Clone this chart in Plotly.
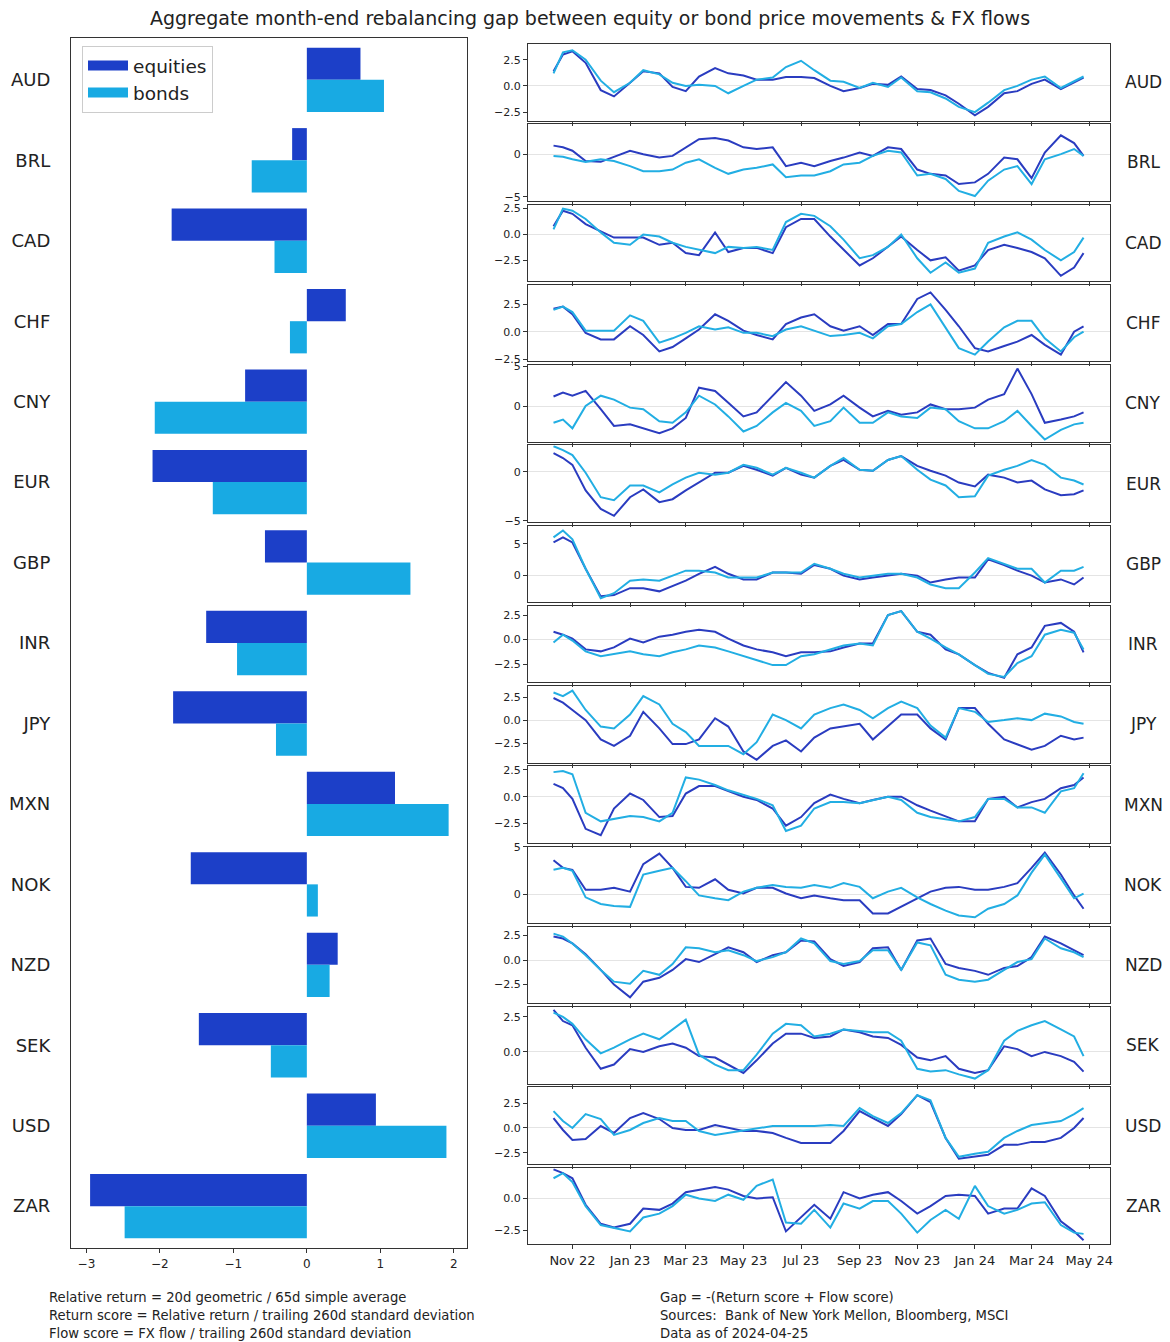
import plotly.graph_objects as go

# ---------------- data ----------------
currencies = ["AUD", "BRL", "CAD", "CHF", "CNY", "EUR", "GBP", "INR",
              "JPY", "MXN", "NOK", "NZD", "SEK", "USD", "ZAR"]

equities_gap = [0.73, -0.2, -1.84, 0.53, -0.84, -2.1, -0.57, -1.37,
                -1.82, 1.2, -1.58, 0.42, -1.47, 0.94, -2.95]
bonds_gap = [1.05, -0.75, -0.44, -0.23, -2.07, -1.28, 1.41, -0.95,
             -0.42, 1.93, 0.15, 0.31, -0.49, 1.9, -2.48]

dates = ["2022-10-12", "2022-10-22", "2022-11-01", "2022-11-15", "2022-12-01", "2022-12-15",
         "2023-01-01", "2023-01-15", "2023-02-01", "2023-02-15", "2023-03-01", "2023-03-15",
         "2023-04-01", "2023-04-15", "2023-05-01", "2023-05-15", "2023-06-01", "2023-06-15",
         "2023-07-01", "2023-07-15", "2023-08-01", "2023-08-15", "2023-09-01", "2023-09-15",
         "2023-10-01", "2023-10-15", "2023-11-01", "2023-11-15", "2023-12-01", "2023-12-15",
         "2024-01-01", "2024-01-15", "2024-02-01", "2024-02-15", "2024-03-01", "2024-03-15",
         "2024-04-01", "2024-04-15", "2024-04-25"]

eq_AUD = [1.4, 3.0, 3.3, 2.2, -0.4, -1.0, 0.3, 1.4, 1.2, -0.1, -0.5, 0.9, 1.7, 1.2, 1.0, 0.6, 0.6, 0.85, 0.85, 0.75,
          0.0, -0.5, -0.2, 0.2, 0.1, 0.9, -0.3, -0.4, -0.9, -1.7, -2.8, -2.0, -0.7, -0.5, 0.2, 0.6, -0.3, 0.3, 0.8]
bd_AUD = [1.2, 3.2, 3.4, 2.5, 0.5, -0.6, 0.3, 1.5, 1.1, 0.3, 0.0, 0.1, 0.0, -0.7, 0.0, 0.6, 0.8, 1.8, 2.4, 1.5,
          0.5, 0.4, -0.2, 0.3, -0.1, 0.8, -0.5, -0.6, -1.2, -2.0, -2.5, -1.6, -0.4, 0.0, 0.6, 0.9, -0.2, 0.4, 0.9]

eq_BRL = [1.0, 0.8, 0.4, -0.8, -0.9, -0.3, 0.4, 0.0, -0.4, -0.2, 0.8, 1.75, 1.9, 1.6, 0.8, 0.6, 0.8, -1.4, -1.0, -1.4,
          -0.8, -0.4, 0.2, -0.2, 0.8, 0.6, -1.8, -2.3, -2.5, -3.5, -3.3, -2.3, -0.4, -0.6, -2.8, 0.2, 2.2, 1.3, -0.2]
bd_BRL = [-0.2, -0.3, -0.6, -0.9, -0.6, -0.8, -1.4, -2.0, -2.0, -1.8, -1.0, -0.6, -1.6, -2.3, -1.8, -1.6, -1.2, -2.7, -2.5, -2.5,
          -2.0, -1.2, -1.0, -0.2, 0.4, 0.2, -2.5, -2.3, -2.9, -4.3, -4.9, -3.1, -1.8, -1.4, -3.5, -0.6, 0.0, 0.6, -0.2]

eq_CAD = [0.8, 2.3, 2.0, 1.0, 0.3, -0.3, -0.3, -0.3, -1.0, -0.8, -1.8, -2.0, 0.2, -1.7, -1.3, -1.3, -1.8, 0.7, 1.5, 1.5,
          -0.2, -1.5, -3.0, -2.3, -1.2, -0.2, -1.5, -2.5, -2.2, -3.5, -3.0, -1.5, -1.0, -1.3, -1.7, -2.3, -4.0, -3.2, -1.8]
bd_CAD = [0.5, 2.5, 2.3, 1.5, 0.2, -0.8, -1.0, 0.0, -0.2, -0.8, -1.2, -1.5, -1.8, -1.2, -1.3, -1.2, -1.5, 1.2, 2.0, 1.8,
          0.8, -0.5, -2.3, -2.0, -1.2, 0.0, -2.3, -3.7, -2.7, -3.7, -3.3, -0.8, -0.2, 0.2, -0.5, -1.5, -2.5, -1.7, -0.3]

eq_CHF = [2.1, 2.3, 1.6, -0.1, -0.7, -0.7, 0.5, -0.3, -1.8, -1.4, -0.6, 0.2, 1.6, 1.0, 0.1, -0.3, -0.7, 0.7, 1.3, 1.6,
          0.5, 0.1, 0.5, -0.3, 0.7, 0.7, 3.0, 3.6, 2.0, 0.5, -1.5, -1.8, -1.3, -0.9, -0.3, -1.2, -2.1, 0.0, 0.5]
bd_CHF = [2.0, 2.3, 1.8, 0.1, 0.1, 0.1, 1.5, 1.0, -1.0, -0.6, -0.1, 0.5, 0.2, 0.4, -0.1, -0.1, -0.4, 0.2, 0.5, 0.1,
          -0.4, -0.3, -0.1, -0.6, 0.5, 0.7, 1.8, 2.5, 0.3, -1.5, -2.1, -0.9, 0.4, 1.0, 1.0, -0.6, -1.8, -0.5, 0.0]

eq_CNY = [1.2, 1.7, 1.3, 1.9, -0.4, -2.5, -2.3, -2.8, -3.4, -2.8, -1.5, 2.3, 1.9, 0.4, -1.3, -0.8, 1.3, 3.0, 1.3, -0.6,
          0.2, 1.3, -0.2, -1.3, -0.6, -1.1, -0.8, 0.2, -0.4, -0.4, -0.2, 0.8, 1.5, 4.7, 1.5, -2.1, -1.7, -1.3, -0.8]
bd_CNY = [-2.1, -1.7, -2.8, 0.0, 1.3, 0.8, -0.2, -0.4, -1.9, -2.1, -0.8, 1.3, 0.2, -1.3, -3.2, -2.5, -0.8, 0.4, -0.6, -2.5,
          -1.9, -0.2, -2.1, -2.1, -0.8, -1.3, -1.5, -0.2, -0.4, -1.9, -2.8, -2.8, -1.9, -0.6, -2.5, -4.2, -3.0, -2.3, -2.1]

eq_EUR = [1.9, 1.4, 0.7, -1.9, -3.8, -4.5, -2.6, -1.8, -3.1, -2.8, -1.9, -1.1, -0.1, -0.1, 0.6, 0.2, -0.4, 0.4, -0.3, -0.6,
          0.6, 1.2, 0.2, 0.1, 1.2, 1.6, 0.6, 0.1, -0.4, -1.1, -1.5, -0.3, -0.6, -1.1, -0.9, -1.8, -2.4, -2.3, -1.9]
bd_EUR = [2.6, 2.2, 1.7, -0.1, -2.6, -2.9, -1.4, -1.4, -2.1, -1.3, -0.6, -0.1, -0.3, -0.1, 0.7, 0.4, -0.3, 0.4, -0.1, -0.6,
          0.6, 1.4, 0.2, 0.1, 1.2, 1.6, 0.2, -0.8, -1.4, -2.6, -2.5, -0.4, 0.2, 0.6, 1.2, 0.7, -0.6, -0.9, -1.3]

eq_GBP = [5.2, 6.0, 5.2, 1.0, -3.4, -3.2, -2.1, -2.1, -2.6, -1.8, -0.9, 0.2, 1.3, 0.2, -0.7, -0.7, 0.4, 0.4, 0.2, 1.6,
          1.0, -0.1, -0.7, -0.4, -0.1, 0.2, -0.1, -1.2, -0.7, -0.4, -0.4, 2.5, 1.6, 0.7, -0.1, -1.2, -0.7, -1.5, -0.4]
bd_GBP = [6.0, 7.1, 5.7, 1.0, -3.7, -2.9, -0.9, -0.7, -0.9, -0.1, 0.7, 0.7, 0.4, -0.4, -0.4, -0.4, 0.4, 0.4, 0.4, 1.8,
          1.0, 0.2, -0.4, -0.1, 0.2, 0.2, -0.4, -1.5, -2.1, -2.1, 0.4, 2.7, 1.8, 1.0, 1.0, -1.2, 0.7, 0.7, 1.3]

eq_INR = [0.8, 0.5, 0.1, -1.0, -1.2, -0.8, 0.1, -0.3, 0.3, 0.5, 0.8, 1.0, 0.8, 0.1, -0.6, -1.0, -1.3, -1.7, -1.3, -1.3,
          -1.2, -0.8, -0.4, -0.4, 2.5, 2.9, 0.8, 0.5, -1.0, -1.5, -2.6, -3.4, -3.9, -1.5, -0.8, 1.4, 1.7, 0.8, -1.3]
bd_INR = [-0.3, 0.5, -0.1, -1.2, -1.7, -1.5, -1.2, -1.5, -1.7, -1.3, -1.0, -0.6, -0.8, -1.2, -1.7, -2.1, -2.6, -2.6, -1.7, -1.5,
          -1.0, -0.6, -0.4, -0.6, 2.5, 2.9, 0.8, 0.1, -0.8, -1.5, -2.6, -3.5, -3.8, -2.4, -1.7, 0.5, 1.0, 0.7, -1.0]

eq_JPY = [2.4, 1.9, 1.1, 0.0, -2.1, -2.8, -1.7, 0.9, -0.9, -2.6, -2.6, -2.1, 0.2, -0.7, -3.4, -4.3, -2.8, -2.2, -3.4, -1.9,
          -0.9, -0.7, -0.4, -2.1, -0.7, 0.6, 0.6, -0.9, -2.1, 1.3, 1.3, -0.4, -2.1, -2.6, -3.2, -2.8, -1.7, -2.1, -1.9]
bd_JPY = [3.0, 2.6, 3.2, 1.1, -0.7, -0.9, 0.6, 2.6, 1.7, -0.4, -1.3, -2.8, -2.8, -2.8, -3.7, -2.4, 0.6, 0.0, -0.9, 0.6,
          1.3, 1.7, 1.1, 0.2, 1.3, 2.0, 1.3, -0.6, -1.9, 1.3, 0.9, -0.2, 0.0, 0.2, 0.0, 0.7, 0.4, -0.2, -0.4]

eq_MXN = [1.2, 0.8, -0.2, -3.0, -3.6, -1.1, 0.3, -0.3, -1.9, -1.8, 0.3, 1.0, 1.0, 0.5, 0.0, -0.3, -1.1, -2.7, -1.9, -0.6,
          0.2, -0.2, -0.6, -0.3, 0.0, 0.0, -0.8, -1.3, -1.8, -2.3, -2.3, -0.2, 0.0, -1.0, -0.5, -0.2, 0.8, 1.1, 1.8]
bd_MXN = [2.3, 2.4, 2.1, -1.5, -2.3, -2.1, -1.8, -1.9, -2.3, -1.5, 1.8, 1.6, 1.1, 0.6, 0.2, -0.2, -0.8, -3.2, -2.7, -1.1,
          -0.5, -0.5, -0.6, -0.3, 0.0, -0.3, -1.5, -1.9, -2.1, -2.3, -1.9, -0.2, -0.2, -1.0, -1.0, -1.5, 0.5, 0.8, 2.2]

eq_NOK = [3.6, 2.8, 2.6, 0.5, 0.5, 0.7, 0.3, 3.2, 4.3, 2.8, 0.8, 0.7, 1.6, 0.5, 0.1, 0.7, 0.7, 0.1, -0.4, -0.1,
          -0.4, -0.6, -0.6, -2.0, -2.0, -1.3, -0.4, 0.3, 0.7, 0.8, 0.5, 0.5, 0.8, 1.2, 2.8, 4.4, 2.1, -0.1, -1.5]
bd_NOK = [2.6, 2.8, 2.5, -0.3, -1.0, -1.2, -1.3, 2.1, 2.5, 2.8, 1.4, -0.1, -0.4, -0.6, 0.3, 0.7, 1.0, 0.8, 0.7, 1.0,
          0.7, 1.2, 0.8, -0.4, 0.3, 0.7, -0.3, -1.0, -1.7, -2.2, -2.4, -1.5, -1.0, -0.1, 2.3, 4.2, 1.7, -0.4, 0.1]

eq_NZD = [2.4, 2.2, 1.7, 0.6, -1.0, -2.5, -3.8, -2.2, -1.8, -1.0, 0.1, -0.2, 0.6, 1.3, 0.8, -0.2, 0.5, 0.8, 2.0, 1.9,
          0.1, -0.6, -0.2, 1.2, 1.3, -1.0, 2.0, 2.2, -0.4, -0.8, -1.1, -1.5, -0.8, -0.6, 0.3, 2.4, 1.7, 1.0, 0.5]
bd_NZD = [2.7, 2.4, 1.7, 0.5, -1.0, -2.2, -2.4, -1.1, -1.5, -0.4, 1.3, 1.2, 0.8, 1.0, 0.5, -0.1, 0.3, 0.8, 2.2, 1.7,
          -0.1, -0.4, -0.1, 1.0, 1.0, -1.0, 1.8, 1.5, -1.5, -2.0, -2.2, -2.0, -1.0, -0.2, 0.1, 2.2, 1.2, 0.8, 0.3]

eq_SEK = [3.0, 2.2, 1.9, 0.3, -1.2, -0.9, 0.2, 0.0, 0.4, 0.6, 0.3, -0.3, -0.4, -0.9, -1.5, -0.6, 0.6, 1.3, 1.3, 1.0,
          1.1, 1.6, 1.4, 1.1, 1.0, 0.5, -0.4, -0.6, -0.3, -1.2, -1.5, -1.3, 0.4, 0.2, -0.3, 0.0, -0.3, -0.7, -1.4]
bd_SEK = [2.8, 2.5, 2.0, 0.9, -0.1, 0.3, 0.9, 1.3, 0.9, 1.6, 2.3, -0.2, -0.9, -1.3, -1.3, -0.2, 1.3, 2.0, 1.9, 1.1,
          1.3, 1.6, 1.5, 1.4, 1.4, 0.8, -1.2, -1.4, -1.3, -1.6, -1.9, -1.3, 0.8, 1.5, 1.9, 2.2, 1.6, 1.1, -0.3]

eq_USD = [1.0, -0.2, -1.2, -1.1, 0.2, -0.5, 1.0, 1.5, 0.9, 0.0, -0.2, -0.2, 0.3, 0.0, -0.3, -0.3, -0.5, -1.0, -1.5, -1.5,
          -1.5, -0.3, 1.7, 1.0, 0.2, 1.4, 3.3, 2.6, -1.0, -3.1, -2.9, -2.7, -1.7, -1.7, -1.4, -1.4, -1.0, 0.0, 1.0]
bd_USD = [1.7, 0.7, 0.0, 1.4, 0.9, -0.7, -0.2, 0.5, 1.0, 0.7, 0.7, -0.3, -0.7, -0.5, -0.2, 0.0, 0.2, 0.2, 0.2, 0.2,
          0.3, 0.2, 2.0, 1.2, 0.5, 1.5, 3.3, 2.8, -1.0, -2.9, -2.6, -2.4, -1.0, -0.3, 0.3, 0.5, 0.7, 1.4, 2.0]

eq_ZAR = [2.3, 2.0, 1.6, -0.5, -2.0, -2.3, -2.0, -0.8, -0.9, -0.4, 0.5, 0.7, 0.9, 0.7, 0.2, 0.0, 0.1, -2.6, -1.5, -0.5,
          -1.6, 0.5, 0.0, 0.3, 0.5, -0.2, -1.2, -0.6, 0.2, 0.3, 0.2, -1.2, -0.8, -0.8, 0.8, 0.2, -1.8, -2.6, -3.3]
bd_ZAR = [1.6, 2.0, 1.3, -0.6, -2.1, -2.3, -2.6, -1.5, -1.2, -0.6, 0.3, 0.0, -0.2, 0.3, -0.1, 1.0, 1.5, -1.9, -2.0, -0.9,
          -2.3, -0.4, -0.8, -0.2, -0.2, -1.2, -2.7, -1.7, -0.9, -1.6, 1.0, -0.6, -1.2, -0.9, -0.4, -0.3, -2.1, -2.7, -2.8]

equity_series = [eq_AUD, eq_BRL, eq_CAD, eq_CHF, eq_CNY, eq_EUR, eq_GBP, eq_INR,
                 eq_JPY, eq_MXN, eq_NOK, eq_NZD, eq_SEK, eq_USD, eq_ZAR]
bond_series = [bd_AUD, bd_BRL, bd_CAD, bd_CHF, bd_CNY, bd_EUR, bd_GBP, bd_INR,
               bd_JPY, bd_MXN, bd_NOK, bd_NZD, bd_SEK, bd_USD, bd_ZAR]

# axis limits / ticks
y_limits = [[-3.3, 4.0], [-5.45, 3.5], [-4.5, 2.9], [-2.7, 4.3], [-4.45, 5.15],
            [-5.1, 2.7], [-4.3, 7.9], [-4.35, 3.45], [-4.6, 3.7], [-4.3, 2.85],
            [-3.0, 5.05], [-4.4, 3.4], [-2.25, 3.2], [-3.6, 4.1], [-3.6, 2.45]]
y_tick_steps = [2.5, 5, 2.5, 2.5, 5, 5, 5, 2.5, 2.5, 2.5, 5, 2.5, 2.5, 2.5, 2.5]

time_tick_dates = ["2022-11-01", "2023-01-01", "2023-03-01", "2023-05-01", "2023-07-01",
                   "2023-09-01", "2023-11-01", "2024-01-01", "2024-03-01", "2024-05-01"]
time_tick_labels = ["Nov 22", "Jan 23", "Mar 23", "May 23", "Jul 23",
                    "Sep 23", "Nov 23", "Jan 24", "Mar 24", "May 24"]
time_limits = ["2022-09-15", "2024-05-23"]

bar_ticks = [-3, -2, -1, 0, 1, 2]
bar_tick_labels = ["\u22123", "\u22122", "\u22121", "0", "1", "2"]
bar_limits = [-3.21, 2.18]

title_text = "Aggregate month-end rebalancing gap between equity or bond price movements & FX flows"
notes_left = ["Relative return = 20d geometric / 65d simple average",
              "Return score = Relative return / trailing 260d standard deviation",
              "Flow score = FX flow / trailing 260d standard deviation"]
notes_right = ["Gap = -(Return score + Flow score)",
               "Sources:  Bank of New York Mellon, Bloomberg, MSCI",
               "Data as of 2024-04-25"]

# ---------------- styling ----------------
W, H = 1170, 1342
EQ_COLOR = "#1c3fc8"
BD_COLOR = "#18aae3"
EQ_LINE = "#2a3cc0"
BD_LINE = "#22aee3"
FRAME = "#333333"
FONT = "DejaVu Sans"


def fx(p):
    return p / W


def fy(p):
    return 1 - p / H


fig = go.Figure()

# left: grouped horizontal bars
fig.add_trace(go.Bar(y=currencies, x=equities_gap, orientation="h", name="equities",
                     marker=dict(color=EQ_COLOR, line=dict(width=0)), xaxis="x", yaxis="y",
                     showlegend=False))
fig.add_trace(go.Bar(y=currencies, x=bonds_gap, orientation="h", name="bonds",
                     marker=dict(color=BD_COLOR, line=dict(width=0)), xaxis="x", yaxis="y",
                     showlegend=False))
# legend entries drawn as wide rectangular swatches (matplotlib-like)
for nm, col in (("equities", EQ_COLOR), ("bonds", BD_COLOR)):
    fig.add_trace(go.Scatter(x=[None], y=[None], mode="lines", name=nm,
                             line=dict(color=col, width=14), xaxis="x", yaxis="y",
                             showlegend=True))

layout = dict(
    width=W, height=H, autosize=False,
    margin=dict(l=0, r=0, t=0, b=0, pad=0, autoexpand=False),
    paper_bgcolor="white", plot_bgcolor="white",
    font=dict(family=FONT, color="#222222"),
    barmode="group", bargap=0.2, bargroupgap=0.0,
    showlegend=True,
    legend=dict(x=fx(82), y=fy(46), xanchor="left", yanchor="top",
                bgcolor="rgba(255,255,255,0.9)", bordercolor="#cccccc", borderwidth=1,
                font=dict(size=18.5, family=FONT), tracegroupgap=2,
                itemwidth=40),
    xaxis=dict(domain=[fx(71), fx(467)], anchor="y", range=bar_limits,
               tickvals=bar_ticks, ticktext=bar_tick_labels, ticks="outside", ticklen=4,
               tickcolor=FRAME, showline=True, mirror=True, linecolor=FRAME, linewidth=1.3,
               showgrid=False, zeroline=False, tickfont=dict(size=12)),
    yaxis=dict(domain=[fy(1248), fy(38)], anchor="x", type="category",
               categoryorder="array", categoryarray=currencies,
               range=[len(currencies) - 0.48, -0.52],
               ticks="", ticklabelstandoff=16, showline=True, mirror=True,
               linecolor=FRAME, linewidth=1.3, showgrid=False, zeroline=False,
               tickfont=dict(size=18)),
)

annotations = []
n = len(currencies)
for i in range(n):
    k = i + 2
    top = 44 + i * 80.25
    bot = top + 76.5
    xa, ya = f"xaxis{k}", f"yaxis{k}"
    fig.add_trace(go.Scatter(x=dates, y=equity_series[i], mode="lines",
                             line=dict(color=EQ_LINE, width=2), showlegend=False,
                             xaxis=f"x{k}", yaxis=f"y{k}", hoverinfo="skip"))
    fig.add_trace(go.Scatter(x=dates, y=bond_series[i], mode="lines",
                             line=dict(color=BD_LINE, width=2), showlegend=False,
                             xaxis=f"x{k}", yaxis=f"y{k}", hoverinfo="skip"))
    layout[xa] = dict(domain=[fx(528), fx(1110)], anchor=f"y{k}", type="date",
                      range=time_limits, tickvals=time_tick_dates, ticktext=time_tick_labels,
                      showticklabels=(i == n - 1), ticks="outside", ticklen=4, tickcolor=FRAME,
                      showline=True, mirror=True, linecolor=FRAME, linewidth=1.3,
                      showgrid=False, zeroline=False, tickfont=dict(size=13))
    step = y_tick_steps[i]
    layout[ya] = dict(domain=[fy(bot), fy(top)], anchor=f"x{k}", range=y_limits[i],
                      tick0=0, dtick=step, tickformat=(".1f" if step != int(step) else "d"),
                      ticks="outside", ticklen=4, tickcolor=FRAME,
                      showline=True, mirror=True, linecolor=FRAME, linewidth=1.3,
                      showgrid=False, zeroline=True, zerolinecolor="#e4e4e4", zerolinewidth=1,
                      tickfont=dict(size=11))
    annotations.append(dict(text=currencies[i], x=fx(1143), y=fy((top + bot) / 2),
                            xref="paper", yref="paper", xanchor="center", yanchor="middle",
                            showarrow=False, font=dict(size=17, family=FONT)))

annotations.append(dict(text=title_text, x=fx(590), y=fy(18), xref="paper", yref="paper",
                        xanchor="center", yanchor="middle", showarrow=False,
                        font=dict(size=19, family=FONT)))
for j, t in enumerate(notes_left):
    annotations.append(dict(text=t, x=fx(47), y=fy(1297 + 18 * j), xref="paper", yref="paper",
                            xanchor="left", yanchor="middle", showarrow=False,
                            font=dict(size=13.2, family=FONT)))
for j, t in enumerate(notes_right):
    annotations.append(dict(text=t, x=fx(658), y=fy(1297 + 18 * j), xref="paper", yref="paper",
                            xanchor="left", yanchor="middle", showarrow=False,
                            font=dict(size=13.2, family=FONT)))

layout["annotations"] = annotations
fig.update_layout(**layout)
fig.write_html("out.html", config={"displayModeBar": False},
               post_script="document.body.style.margin='0px';document.body.style.overflow='hidden';")
